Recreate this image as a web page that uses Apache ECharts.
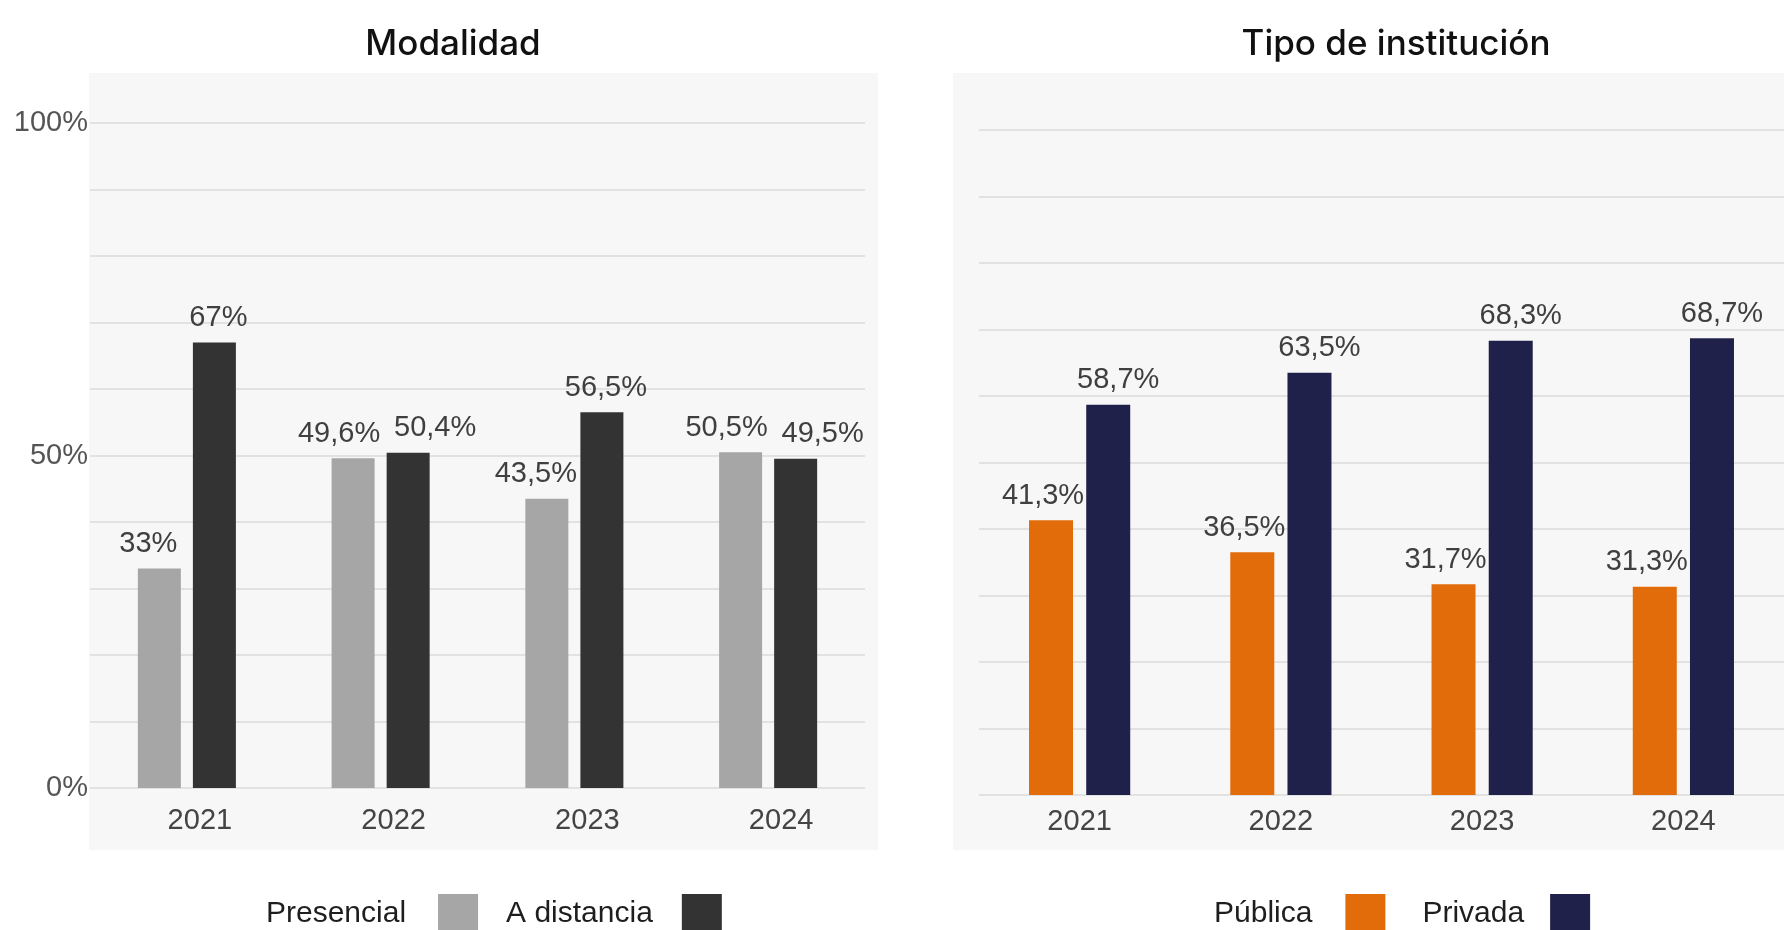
<!DOCTYPE html>
<html>
<head>
<meta charset="utf-8">
<script src="https://cdn.jsdelivr.net/npm/echarts@6/dist/echarts.min.js"></script>
<style>
html,body{margin:0;padding:0;background:#ffffff;}
#chart{width:1784px;height:930px;}
</style>
</head>
<body>
<div id="chart"></div>
<script>
// ---- data ----
const years = ['2021', '2022', '2023', '2024'];
const presencial = [33, 49.6, 43.5, 50.5];
const aDistancia = [67, 50.4, 56.5, 49.5];
const publica = [41.3, 36.5, 31.7, 31.3];
const privada = [58.7, 63.5, 68.3, 68.7];
const yTicks = [0, 50, 100];

const titleLeft = 'Modalidad';
const titleRight = 'Tipo de institución';
const seriesNames = ['Presencial', 'A distancia', 'Pública', 'Privada'];

// ---- styles ----
const C_GRAY = '#a6a6a6', C_DARK = '#333333', C_ORANGE = '#e26b0a', C_NAVY = '#20214a';
const BG = '#f7f7f7';
const FONT = 'Liberation Sans, Arial, sans-serif';

function fmt(v) {
  return String(v).replace('.', ',') + '%';
}

function pairClose(a, b, i) { return Math.abs(a[i] - b[i]) < 3; }

const labelBase = {
  show: true, position: 'top', distance: 10,
  fontFamily: FONT, fontSize: 29, color: '#3f3f3f',
  formatter: p => fmt(p.value)
};

const chart = echarts.init(document.getElementById('chart'), null, {renderer: 'canvas'});

const yAxisCommon = {
  type: 'value', min: 0, max: 100, interval: 10,
  axisLine: {show: false}, axisTick: {show: false},
  splitLine: {show: true, lineStyle: {color: '#e2e2e2', width: 2}}
};

const legendText = {fontFamily: FONT, fontSize: 30, color: '#1e1e1e'};

const option = {
  animation: false,
  backgroundColor: '#ffffff',
  graphic: {
    elements: [
      {type: 'rect', z: -10, shape: {x: 89, y: 73, width: 789, height: 777}, style: {fill: BG}},
      {type: 'rect', z: -10, shape: {x: 953, y: 73, width: 840, height: 777}, style: {fill: BG}}
    ]
  },
  title: [
    {text: titleLeft, left: 453, top: 27, padding: 0, textAlign: 'center',
     textStyle: {fontFamily: 'Inter', fontWeight: 500, fontSize: 35, color: '#111111'}},
    {text: titleRight, left: 1396, top: 27, padding: 0, textAlign: 'center',
     textStyle: {fontFamily: 'Inter', fontWeight: 500, fontSize: 35, color: '#111111'}}
  ],
  legend: [
    {
      left: 266, top: 894, padding: 0, orient: 'horizontal', align: 'right',
      itemWidth: 40, itemHeight: 40, itemGap: 28, icon: 'rect', selectedMode: false,
      textStyle: legendText,
      data: [
        {name: seriesNames[0], textStyle: {padding: [0, 27, 0, 0]}},
        {name: seriesNames[1], textStyle: {padding: [0, 24, 0, 0]}}
      ]
    },
    {
      left: 1214, top: 894, padding: 0, orient: 'horizontal', align: 'right',
      itemWidth: 40, itemHeight: 40, itemGap: 37, icon: 'rect', selectedMode: false,
      textStyle: legendText,
      data: [
        {name: seriesNames[2], textStyle: {padding: [0, 28, 0, 0]}},
        {name: seriesNames[3], textStyle: {padding: [0, 21, 0, 0]}}
      ]
    }
  ],
  grid: [
    {left: 90, right: 1784 - 865, top: 123, bottom: 930 - 788, containLabel: false},
    {left: 979, right: -13, top: 130, bottom: 930 - 795, containLabel: false}
  ],
  xAxis: [
    {type: 'category', gridIndex: 0, data: years,
     axisLine: {show: false}, axisTick: {show: false},
     axisLabel: {fontFamily: FONT, fontSize: 29, color: '#444444', margin: 18, padding: [0, 0, 0, 26]}},
    {type: 'category', gridIndex: 1, data: years,
     axisLine: {show: false}, axisTick: {show: false},
     axisLabel: {fontFamily: FONT, fontSize: 29, color: '#444444', margin: 12}}
  ],
  yAxis: [
    Object.assign({}, yAxisCommon, {
      gridIndex: 0,
      axisLabel: {fontFamily: FONT, fontSize: 29, color: '#555555', margin: 2,
        formatter: v => (yTicks.indexOf(v) >= 0 ? v + '%' : '')}
    }),
    Object.assign({}, yAxisCommon, {gridIndex: 1, axisLabel: {show: false}})
  ],
  series: [
    {name: seriesNames[0], type: 'bar', xAxisIndex: 0, yAxisIndex: 0, data: presencial,
     barWidth: 43, barGap: '28%', itemStyle: {color: C_GRAY}, label: labelBase,
     labelLayout: p => ({dx: pairClose(presencial, aDistancia, p.dataIndex) ? -14 : -11})},
    {name: seriesNames[1], type: 'bar', xAxisIndex: 0, yAxisIndex: 0, data: aDistancia,
     barWidth: 43, barGap: '28%', itemStyle: {color: C_DARK}, label: labelBase,
     labelLayout: p => ({dx: pairClose(presencial, aDistancia, p.dataIndex) ? 27 : 4})},
    {name: seriesNames[2], type: 'bar', xAxisIndex: 1, yAxisIndex: 1, data: publica,
     barWidth: 44, barGap: '30%', itemStyle: {color: C_ORANGE}, label: labelBase,
     labelLayout: () => ({dx: -8})},
    {name: seriesNames[3], type: 'bar', xAxisIndex: 1, yAxisIndex: 1, data: privada,
     barWidth: 44, barGap: '30%', itemStyle: {color: C_NAVY}, label: labelBase,
     labelLayout: () => ({dx: 10})}
  ]
};

chart.setOption(option);
</script>
</body>
</html>
